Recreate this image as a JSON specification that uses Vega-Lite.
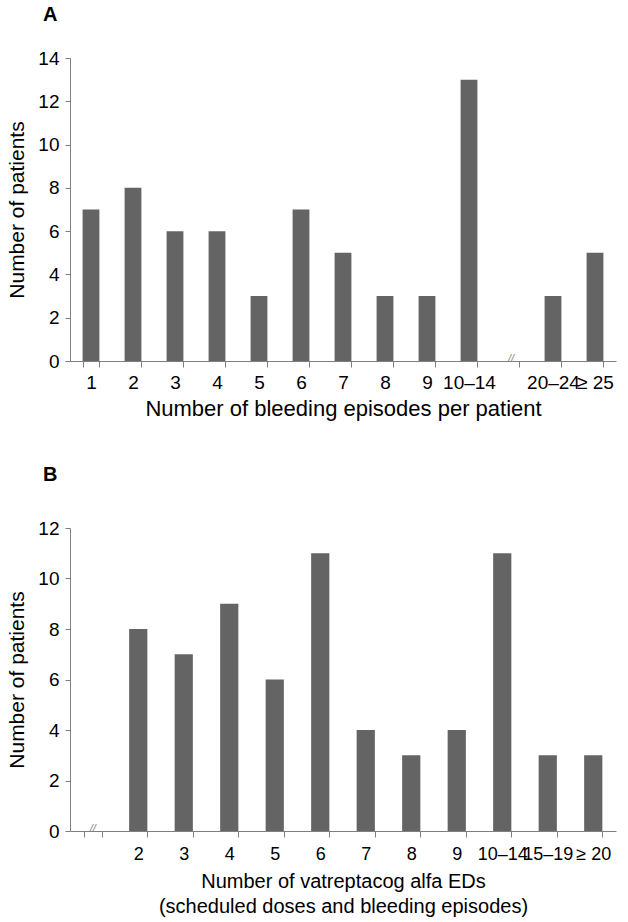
{
  "$schema": "https://vega.github.io/schema/vega-lite/v6.json",
  "padding": {"left": 6, "top": 5, "right": 6, "bottom": 2},
  "background": "white",
  "config": {
    "font": "Liberation Sans",
    "view": {"stroke": null},
    "axis": {
      "domainColor": "#7f7f7f",
      "tickColor": "#7f7f7f",
      "tickSize": 6,
      "labelColor": "#000000",
      "titleColor": "#000000",
      "labelFontSize": 19,
      "titleFontSize": 21,
      "titleFontWeight": "normal",
      "labelFont": "Liberation Sans",
      "titleFont": "Liberation Sans",
      "grid": false
    },
    "title": {"fontSize": 20, "fontWeight": "bold", "color": "#000000", "anchor": "start", "frame": "group"},
    "concat": {"spacing": 46}
  },
  "datasets": {
    "a": [
      {"cat": "1", "n": 7, "sym": ""},
      {"cat": "2", "n": 8, "sym": ""},
      {"cat": "3", "n": 6, "sym": ""},
      {"cat": "4", "n": 6, "sym": ""},
      {"cat": "5", "n": 3, "sym": ""},
      {"cat": "6", "n": 7, "sym": ""},
      {"cat": "7", "n": 5, "sym": ""},
      {"cat": "8", "n": 3, "sym": ""},
      {"cat": "9", "n": 3, "sym": ""},
      {"cat": "10–14", "n": 13, "sym": ""},
      {"cat": "brk", "n": null, "sym": "//"},
      {"cat": "20–24", "n": 3, "sym": ""},
      {"cat": "≥ 25", "n": 5, "sym": ""}
    ],
    "b": [
      {"cat": "brk", "n": null, "sym": "//"},
      {"cat": "2", "n": 8, "sym": ""},
      {"cat": "3", "n": 7, "sym": ""},
      {"cat": "4", "n": 9, "sym": ""},
      {"cat": "5", "n": 6, "sym": ""},
      {"cat": "6", "n": 11, "sym": ""},
      {"cat": "7", "n": 4, "sym": ""},
      {"cat": "8", "n": 3, "sym": ""},
      {"cat": "9", "n": 4, "sym": ""},
      {"cat": "10–14", "n": 11, "sym": ""},
      {"cat": "15–19", "n": 3, "sym": ""},
      {"cat": "≥ 20", "n": 3, "sym": ""}
    ]
  },
  "vconcat": [
    {
      "title": {"text": "A", "dx": -27, "offset": 24},
      "width": 546,
      "height": 303,
      "data": {"name": "a"},
      "layer": [
        {
          "mark": {"type": "bar", "color": "#646464"},
          "encoding": {
            "x": {
              "field": "cat", "type": "ordinal", "sort": null,
              "scale": {"domain": ["1","2","3","4","5","6","7","8","9","10–14","brk","20–24","≥ 25"], "paddingInner": 0.6, "paddingOuter": 0.3},
              "axis": {"title": "Number of bleeding episodes per patient", "titleFontSize": 22, "labelAngle": 0, "tickBand": "extent", "labelExpr": "datum.value == 'brk' ? '' : datum.value", "labelPadding": 6, "titlePadding": 6}
            },
            "y": {
              "field": "n", "type": "quantitative",
              "scale": {"domain": [0, 14], "nice": false},
              "axis": {"title": "Number of patients", "values": [0,2,4,6,8,10,12,14], "tickSize": 5, "labelPadding": 6, "titlePadding": 10}
            }
          }
        },
        {
          "transform": [{"filter": "datum.sym == '//'"}],
          "mark": {"type": "text", "color": "#7f7f7f", "fontSize": 11, "fontStyle": "italic", "baseline": "bottom", "dy": 3},
          "encoding": {
            "x": {"field": "cat", "type": "ordinal", "sort": null},
            "y": {"datum": 0},
            "text": {"field": "sym"}
          }
        }
      ]
    },
    {
      "title": {"text": "B", "dx": -27, "offset": 34},
      "width": 546,
      "height": 303,
      "data": {"name": "b"},
      "layer": [
        {
          "mark": {"type": "bar", "color": "#646464"},
          "encoding": {
            "x": {
              "field": "cat", "type": "ordinal", "sort": null,
              "scale": {"domain": ["brk","2","3","4","5","6","7","8","9","10–14","15–19","≥ 20"], "paddingInner": 0.6, "paddingOuter": 0.3},
              "axis": {"title": ["Number of vatreptacog alfa EDs", "(scheduled doses and bleeding episodes)"], "titleFontSize": 20, "labelFontSize": 18, "labelAngle": 0, "tickBand": "extent", "labelExpr": "datum.value == 'brk' ? '' : datum.value", "labelPadding": 8, "titlePadding": 8, "titleLineHeight": 25}
            },
            "y": {
              "field": "n", "type": "quantitative",
              "scale": {"domain": [0, 12], "nice": false},
              "axis": {"title": "Number of patients", "values": [0,2,4,6,8,10,12], "tickSize": 5, "labelPadding": 6, "titlePadding": 10}
            }
          }
        },
        {
          "transform": [{"filter": "datum.sym == '//'"}],
          "mark": {"type": "text", "color": "#7f7f7f", "fontSize": 11, "fontStyle": "italic", "baseline": "bottom", "dy": 3},
          "encoding": {
            "x": {"field": "cat", "type": "ordinal", "sort": null},
            "y": {"datum": 0},
            "text": {"field": "sym"}
          }
        }
      ]
    }
  ]
}
